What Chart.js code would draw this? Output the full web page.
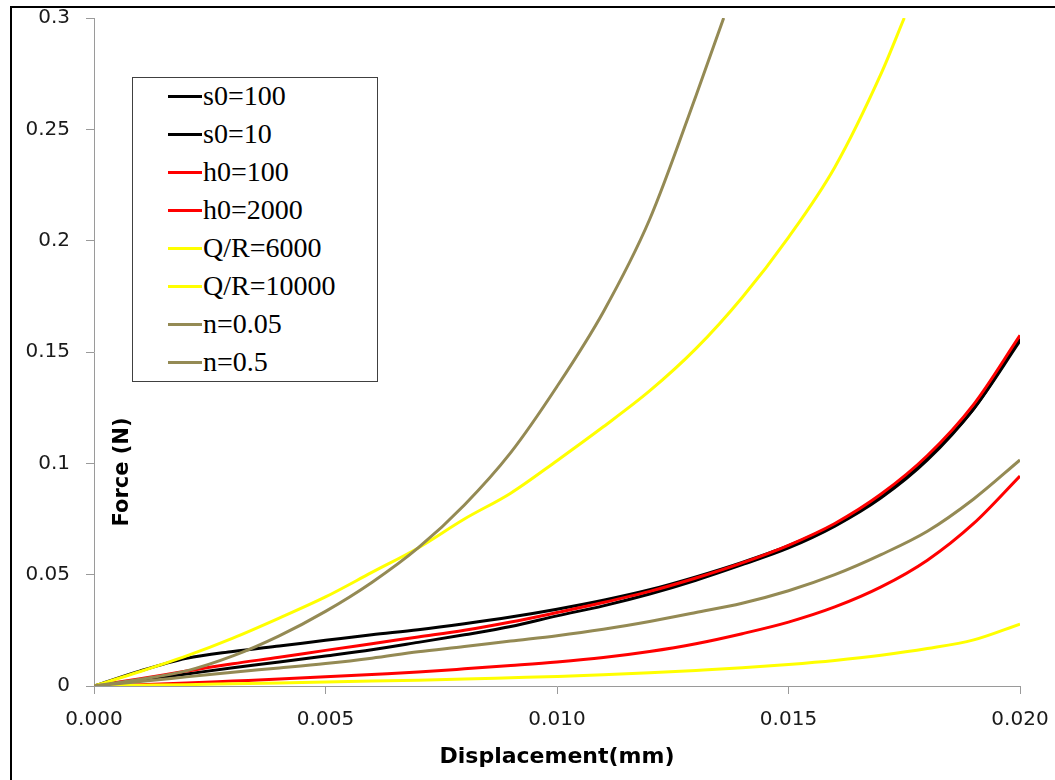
<!DOCTYPE html>
<html>
<head>
<meta charset="utf-8">
<script src="https://cdn.jsdelivr.net/npm/chart.js@4.4.1/dist/chart.umd.min.js"></script>
<style>
html,body{margin:0;padding:0;background:#fff;}
#wrap{position:relative;width:1055px;height:780px;overflow:hidden;background:#fff;}
#frame{position:absolute;left:10px;top:6px;width:1100px;height:800px;border:2px solid #000;box-sizing:border-box;}
#c{position:absolute;left:0;top:0;}
#legend{position:absolute;left:132px;top:77px;width:246px;height:305px;border:1px solid #404040;box-sizing:border-box;background:#fff;
  font-family:"Liberation Serif","Times New Roman",serif;font-size:28px;color:#000;}
.item{position:absolute;left:35px;height:38px;display:flex;align-items:center;white-space:nowrap;}
.swatch{width:34px;height:3px;margin-right:1px;}
</style>
</head>
<body>
<div id="wrap">
  <div id="frame"></div>
  <canvas id="c" width="1055" height="780"></canvas>
  <div id="legend"></div>
</div>
<script>
// ---- data ----
const seriesNames = ["s0=100", "s0=10", "h0=100", "h0=2000", "Q/R=6000", "Q/R=10000", "n=0.05", "n=0.5"];
const seriesColors = ["#000000", "#000000", "#FF0000", "#FF0000", "#FFFF00", "#FFFF00", "#948A54", "#948A54"];

const xFull = [0, 0.001, 0.002, 0.003, 0.004, 0.005, 0.006, 0.007, 0.008, 0.009, 0.010,
               0.011, 0.012, 0.013, 0.014, 0.015, 0.016, 0.017, 0.018, 0.019, 0.020];
const xQR10000 = [0, 0.001, 0.002, 0.003, 0.004, 0.005, 0.006, 0.007, 0.008, 0.009, 0.010,
                  0.011, 0.012, 0.013, 0.014, 0.015, 0.016, 0.017, 0.0175];
const xN05 = [0, 0.001, 0.002, 0.003, 0.004, 0.005, 0.006, 0.007, 0.008, 0.009, 0.010,
              0.011, 0.012, 0.013, 0.0136];

const s0_100 = [0, 0.0068, 0.0124, 0.0155, 0.0180, 0.0205, 0.0230, 0.0253, 0.0280, 0.0310, 0.0345,
                0.0385, 0.0432, 0.0490, 0.0555, 0.0630, 0.0725, 0.0855, 0.1025, 0.1245, 0.1560];
const s0_10 = [0, 0.0026, 0.0054, 0.0082, 0.0108, 0.0135, 0.0163, 0.0196, 0.0230, 0.0267, 0.0315,
               0.0360, 0.0413, 0.0475, 0.0545, 0.0620, 0.0718, 0.0845, 0.1015, 0.1245, 0.1550];
const h0_100 = [0, 0.0033, 0.0067, 0.0100, 0.0129, 0.0160, 0.0190, 0.0220, 0.0250, 0.0287, 0.0330,
                0.0375, 0.0425, 0.0485, 0.0553, 0.0632, 0.0730, 0.0862, 0.1035, 0.1265, 0.1575];
const h0_2000 = [0, 0.0006, 0.0013, 0.0022, 0.0031, 0.0041, 0.0052, 0.0063, 0.0077, 0.0092, 0.0108,
                 0.0128, 0.0155, 0.0190, 0.0235, 0.0287, 0.0355, 0.0445, 0.0565, 0.0730, 0.0943];
const qr_6000 = [0, 0.0003, 0.0006, 0.0010, 0.0014, 0.0018, 0.0022, 0.0026, 0.0031, 0.0037, 0.0043,
                 0.0050, 0.0059, 0.0070, 0.0082, 0.0097, 0.0115, 0.0138, 0.0168, 0.0207, 0.0278];
const qr_10000 = [0, 0.0065, 0.0135, 0.0215, 0.0305, 0.0400, 0.0510, 0.0620, 0.0750, 0.0866, 0.1012,
                  0.1164, 0.1325, 0.1515, 0.1745, 0.2015, 0.2330, 0.2750, 0.3000];
const n_005 = [0, 0.0020, 0.0041, 0.0062, 0.0081, 0.0101, 0.0125, 0.0154, 0.0177, 0.0202, 0.0226,
               0.0255, 0.0290, 0.0330, 0.0372, 0.0428, 0.0500, 0.0590, 0.0695, 0.0840, 0.1015];
const n_05 = [0, 0.0030, 0.0068, 0.0135, 0.0225, 0.0335, 0.0465, 0.0620, 0.0813, 0.1048, 0.1345,
              0.1680, 0.2095, 0.2650, 0.3000];

const xTickLabels = ["0.000", "0.005", "0.010", "0.015", "0.020"];
const yTickLabels = ["0", "0.05", "0.1", "0.15", "0.2", "0.25", "0.3"];
const xTitle = "Displacement(mm)";
const yTitle = "Force (N)";

// ---- build datasets ----
const seriesX = [xFull, xFull, xFull, xFull, xFull, xQR10000, xFull, xN05];
const seriesY = [s0_100, s0_10, h0_100, h0_2000, qr_6000, qr_10000, n_005, n_05];

const datasets = seriesNames.map((name, i) => ({
  label: name,
  data: seriesX[i].map((x, k) => ({x: x, y: seriesY[i][k]})),
  borderColor: seriesColors[i],
  backgroundColor: seriesColors[i],
  borderWidth: 3,
  pointRadius: 0,
  fill: false,
  cubicInterpolationMode: 'monotone',
  order: seriesNames.length - i
}));

const yTitlePlugin = {
  id: 'yTitlePlugin',
  afterDraw(chart) {
    const ctx = chart.ctx;
    ctx.save();
    ctx.translate(123, 472);
    ctx.rotate(-Math.PI / 2);
    ctx.font = 'bold 21px "DejaVu Sans"';
    ctx.fillStyle = '#000';
    ctx.textAlign = 'center';
    ctx.textBaseline = 'middle';
    ctx.fillText(yTitle, 0, 0);
    ctx.restore();
  }
};

const axisGrey = '#9a9a9a';
const chart = new Chart(document.getElementById('c'), {
  type: 'line',
  data: { datasets },
  options: {
    responsive: false,
    animation: false,
    devicePixelRatio: 1,
    layout: { padding: { top: 18, right: 35, left: 0, bottom: 0 } },
    plugins: { legend: { display: false }, tooltip: { enabled: false } },
    scales: {
      x: {
        type: 'linear', min: 0, max: 0.02,
        border: { display: true, color: axisGrey, width: 1 },
        grid: { drawOnChartArea: false, drawTicks: true, tickLength: 8, color: axisGrey },
        ticks: { stepSize: 0.005, padding: 14, maxRotation: 0, autoSkip: false,
                 font: { family: 'DejaVu Sans', size: 20 }, color: '#1a1a1a',
                 callback: (v, i) => xTickLabels[i] },
        title: { display: true, text: xTitle, color: '#000',
                 font: { family: 'DejaVu Sans', weight: 'bold', size: 22 },
                 padding: { top: 4, bottom: 10 } },
        afterFit: (s) => { s.height = 94; s.paddingLeft = 0; s.paddingRight = 0; }
      },
      y: {
        type: 'linear', min: 0, max: 0.3,
        border: { display: true, color: axisGrey, width: 1 },
        grid: { drawOnChartArea: false, drawTicks: true, tickLength: 8, color: axisGrey },
        ticks: { stepSize: 0.05, padding: 16, autoSkip: false,
                 font: { family: 'DejaVu Sans', size: 20 }, color: '#1a1a1a',
                 callback: (v, i) => yTickLabels[i] },
        afterFit: (s) => { s.width = 94; s.paddingTop = 0; s.paddingBottom = 0; }
      }
    }
  },
  plugins: [yTitlePlugin]
});

// ---- legend (HTML, built from the chart datasets) ----
const legendEl = document.getElementById('legend');
chart.data.datasets.forEach((ds, i) => {
  const item = document.createElement('div');
  item.className = 'item';
  item.style.top = (-1 + 38 * i) + 'px';
  const sw = document.createElement('span');
  sw.className = 'swatch';
  sw.style.background = ds.borderColor;
  const tx = document.createElement('span');
  tx.textContent = ds.label;
  item.appendChild(sw);
  item.appendChild(tx);
  legendEl.appendChild(item);
});
</script>
</body>
</html>
